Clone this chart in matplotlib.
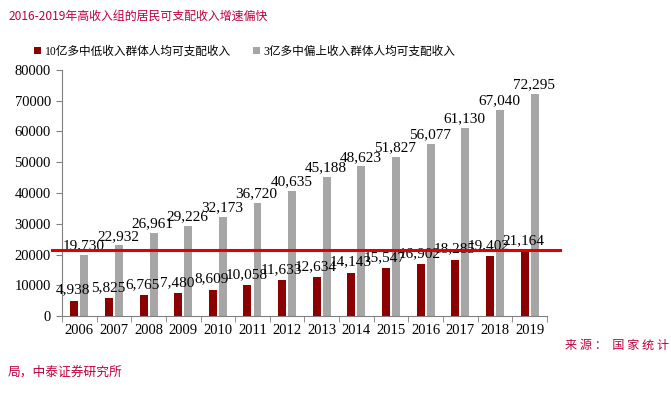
"""
Income growth chart: low/middle vs upper income groups, 2006-2019
"""

import numpy as np
import matplotlib
matplotlib.use("Agg")
import matplotlib.pyplot as plt

years = ['2006', '2007', '2008', '2009', '2010', '2011', '2012',
         '2013', '2014', '2015', '2016', '2017', '2018', '2019']
low_income = [4938, 5825, 6765, 7480, 8609, 10058, 11633,
              12634, 14143, 15547, 16902, 18285, 19402, 21164]
high_income = [19730, 22932, 26961, 29226, 32173, 36720, 40635,
               45188, 48623, 51827, 56077, 61130, 67040, 72295]
ref_level = 21500

low_name = '10亿多中低收入群体人均可支配收入'
high_name = '3亿多中偏上收入群体人均可支配收入'
title = '2016-2019年高收入组的居民可支配收入增速偏快'

SERIF = ['Liberation Serif', 'Noto Sans CJK SC']
CJK = ['Noto Sans CJK SC', 'DejaVu Sans']
RED = '#8B0000'
GRAY = '#A6A6A6'
TITLE_RED = '#C0003C'

fig = plt.figure(figsize=(6.71, 3.97), dpi=100)
ax = fig.add_axes([0.0924, 0.204, 0.7226, 0.6197])

x = np.arange(len(years))
w = 0.23
ax.bar(x - 0.145, low_income, width=w, color=RED, label=low_name)
ax.bar(x + 0.145, high_income, width=w, color=GRAY, label=high_name)

for i in range(len(years)):
    ax.annotate(f"{low_income[i]:,}", (x[i] - 0.17, low_income[i]),
                xytext=(0, 3), textcoords='offset points', ha='center',
                va='bottom', fontsize=11, family=SERIF)
    ax.annotate(f"{high_income[i]:,}", (x[i] + 0.12, high_income[i]),
                xytext=(0, 2), textcoords='offset points', ha='center',
                va='bottom', fontsize=11, family=SERIF)

# red reference line runs past the axes on both sides
ax.plot([-0.79, 13.88], [ref_level, ref_level], color='#E00000',
        linewidth=2.2, clip_on=False, zorder=5)

ax.set_xlim(-0.5, 13.5)
ax.set_ylim(0, 80000)
ax.set_yticks(np.arange(0, 80001, 10000))
ax.set_yticklabels([str(v) for v in range(0, 80001, 10000)],
                   fontsize=10.5, family=SERIF)
ax.set_xticks(x)
ax.set_xticklabels(years, fontsize=10.5, family=SERIF)
ax.tick_params(axis='x', length=0, pad=6)
ax.set_xticks(np.arange(-0.5, 14, 1), minor=True)
ax.tick_params(axis='x', which='minor', length=4, color='#808080')
ax.tick_params(axis='y', length=4, color='#808080', pad=4)

for side in ['top', 'right']:
    ax.spines[side].set_visible(False)
for side in ['left', 'bottom']:
    ax.spines[side].set_color('#808080')

leg = fig.legend(loc='upper left', bbox_to_anchor=(0.035, 0.912), ncol=2,
                 frameon=False, handlelength=0.6, handleheight=0.6,
                 handletextpad=0.3, columnspacing=1.9,
                 prop={'family': SERIF, 'size': 8.4})

fig.text(0.012, 0.96, title, color=TITLE_RED, fontsize=8.6,
         family=CJK, va='center')
fig.text(0.842, 0.131, '来 源 ：  国 家 统 计', color=TITLE_RED,
         fontsize=8.7, family=CJK, va='center')
fig.text(0.012, 0.063, '局，中泰证券研究所', color=TITLE_RED,
         fontsize=9.2, family=CJK, va='center')

fig.savefig('out.png', dpi=100)
plt.close(fig)
